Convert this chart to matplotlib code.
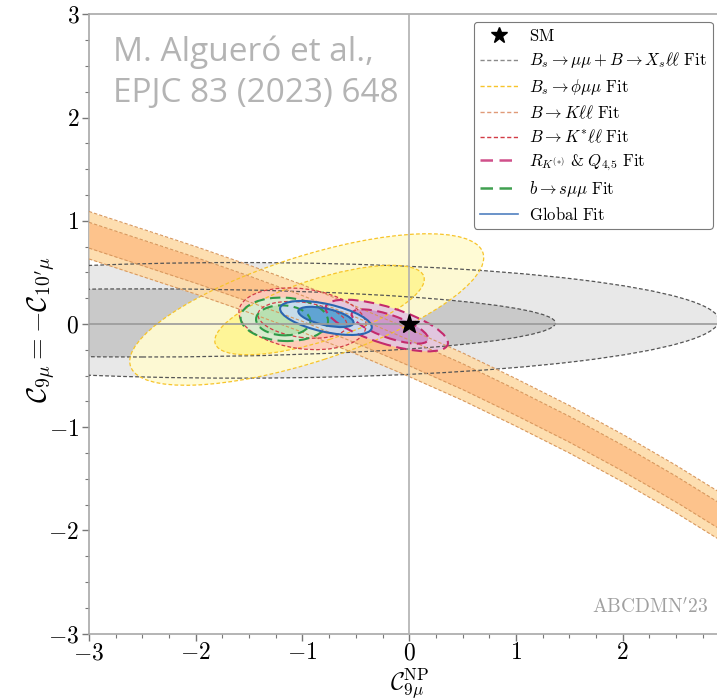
import matplotlib
matplotlib.use("Agg")
import matplotlib.pyplot as plt
from matplotlib.patches import Ellipse
from matplotlib.lines import Line2D
from matplotlib.ticker import MultipleLocator, FuncFormatter
import numpy as np

plt.rcParams['mathtext.fontset'] = 'cm'
plt.rcParams['font.family'] = ['cmr10', 'DejaVu Serif']
plt.rcParams['axes.unicode_minus'] = False

# ---------------- data ----------------
# B -> K ll band: sample points of the band centre and its half widths
band_x = [-3.0, -2.5, -2.0, -1.5, -1.0, -0.5, 0.0, 0.5, 1.0, 1.5, 2.0, 2.5, 3.0]
band_mid = [0.86, 0.69, 0.52, 0.34, 0.15, -0.06, -0.28, -0.51, -0.76, -1.02, -1.30, -1.60, -1.92]
band_half_1s = 0.125
band_half_2s = 0.23

# elliptic contours: (centre x, centre y, semi-axis a, semi-axis b, angle deg)
gray_2s = (-1.60, 0.035, 4.50, 0.56, 0.0)
gray_1s = (-2.50, 0.01, 3.87, 0.33, 0.0)
yellow_2s = (-0.96, 0.14, 1.74, 0.51, 18.5)
yellow_1s = (-0.84, 0.135, 1.03, 0.30, 18.5)
red_2s = (-1.00, 0.05, 0.60, 0.29, -8.0)
red_1s = (-1.00, 0.04, 0.42, 0.17, -8.0)
mag_2s = (-0.21, -0.015, 0.60, 0.177, -18.0)
mag_1s = (-0.18, -0.025, 0.38, 0.11, -20.0)
green_2s = (-1.17, 0.045, 0.41, 0.21, -3.0)
green_1s = (-1.18, 0.035, 0.255, 0.145, -3.0)
blue_2s = (-0.78, 0.058, 0.44, 0.135, -13.0)
blue_1s = (-0.78, 0.068, 0.265, 0.08, -13.0)

sm_point = (0.0, 0.0)

legend_labels = [
    r'$\mathrm{SM}$',
    r'$B_s\to\mu\mu+B\to X_s\ell\ell\ \mathrm{Fit}$',
    r'$B_s\to\phi\mu\mu\ \mathrm{Fit}$',
    r'$B\to K\ell\ell\ \mathrm{Fit}$',
    r'$B\to K^{*}\ell\ell\ \mathrm{Fit}$',
    r'$R_{K^{(*)}}\ &\ Q_{4,\!5}\ \mathrm{Fit}$',
    r'$b\to s\mu\mu\ \mathrm{Fit}$',
    r'$\mathrm{Global\ Fit}$',
]

xticks = [-3, -2, -1, 0, 1, 2]
yticks = [-3, -2, -1, 0, 1, 2, 3]

# ---------------- styles ----------------
c_gray_edge = '#555555'
c_gold_edge = '#f7c42a'
c_band_edge = '#d8985e'
c_red_edge = '#d23c46'
c_mag_edge = '#c42a6c'
c_green_edge = '#2e9a48'
c_blue_edge = '#2a66b0'
thin_dash = (0, (3.0, 1.8))
long_dash = (0, (5.0, 2.6))

fig = plt.figure(figsize=(7.17, 7.0), dpi=100)
ax = fig.add_axes([0.1241, 0.0949, 0.8932, 0.8846])
ax.set_xlim(-3, 3)
ax.set_ylim(-3, 3)


def add_ellipse(p, face, edge, ls, lw, zf, alpha=1.0):
    cx, cy, a, b, ang = p
    ax.add_patch(Ellipse((cx, cy), 2 * a, 2 * b, angle=ang, facecolor=face,
                         edgecolor='none', alpha=alpha, zorder=zf))
    ax.add_patch(Ellipse((cx, cy), 2 * a, 2 * b, angle=ang, facecolor='none',
                         edgecolor=edge, linestyle=ls, linewidth=lw, zorder=zf + 20))


# gray
add_ellipse(gray_2s, '#e8e8e8', c_gray_edge, thin_dash, 0.9, 1)
add_ellipse(gray_1s, '#c9c9c9', c_gray_edge, thin_dash, 0.9, 2)
# yellow
add_ellipse(yellow_2s, '#fffbd2', c_gold_edge, thin_dash, 0.9, 3, 0.93)
add_ellipse(yellow_1s, '#fff594', c_gold_edge, thin_dash, 0.9, 4, 0.93)
# band
bm = np.array(band_mid)
ax.fill_between(band_x, bm - band_half_2s, bm + band_half_2s, color='#fddcaa',
                linewidth=0, zorder=5, alpha=0.92)
ax.fill_between(band_x, bm - band_half_1s, bm + band_half_1s, color='#fdc189',
                linewidth=0, zorder=6, alpha=0.92)
for off in (-band_half_2s, -band_half_1s, band_half_1s, band_half_2s):
    ax.plot(band_x, bm + off, color=c_band_edge, linestyle=thin_dash, linewidth=0.8, zorder=26)
# red
add_ellipse(red_2s, '#fdcbbb', c_red_edge, thin_dash, 0.9, 7, 0.92)
add_ellipse(red_1s, '#fcbcaa', c_red_edge, thin_dash, 0.9, 8, 0.92)
# magenta
add_ellipse(mag_2s, '#e4c6e2', c_mag_edge, long_dash, 1.5, 9, 0.9)
add_ellipse(mag_1s, '#cc92c8', c_mag_edge, long_dash, 1.5, 10, 0.9)
# green
add_ellipse(green_2s, '#d6efd2', c_green_edge, long_dash, 1.5, 11, 0.9)
add_ellipse(green_1s, '#b6dfae', c_green_edge, long_dash, 1.5, 12, 0.9)
# blue
add_ellipse(blue_2s, '#c8dcf0', c_blue_edge, '-', 1.5, 13, 0.9)
add_ellipse(blue_1s, '#5aa1d2', c_blue_edge, '-', 1.5, 14, 0.95)

ax.axhline(0, color='#9a9a9a', linewidth=1.2, zorder=40)
ax.axvline(0, color='#b0b0b0', linewidth=1.2, zorder=40)
ax.plot([sm_point[0]], [sm_point[1]], marker='*', color='black', markersize=15,
        linestyle='none', zorder=50)

# axes styling
for s in ax.spines.values():
    s.set_color('#a8a8a8')
    s.set_linewidth(1.2)
ax.xaxis.set_minor_locator(MultipleLocator(0.25))
ax.yaxis.set_minor_locator(MultipleLocator(0.25))
ax.set_xticks(xticks)
ax.set_yticks(yticks)
fmt = FuncFormatter(lambda v, p: r'$%d$' % int(round(v)))
ax.xaxis.set_major_formatter(fmt)
ax.yaxis.set_major_formatter(fmt)
ax.tick_params(which='major', direction='out', length=5, width=1.0, color='#777777',
               labelsize=17, pad=2)
ax.tick_params(axis='x', which='major', pad=1)
ax.tick_params(which='minor', direction='out', length=3, width=0.8, color='#777777')
ax.tick_params(top=False, right=False)

ax.set_xlabel(r'$\mathcal{C}_{9\mu}^{\mathrm{NP}}$', fontsize=17.5)
ax.xaxis.set_label_coords(0.5, -0.0545, transform=ax.transAxes)
ax.xaxis.label.set_verticalalignment('top')
ax.set_ylabel(r'$\mathcal{C}_{9\mu}=-\mathcal{C}_{10^{\prime}\mu}$', fontsize=20)
ax.yaxis.set_label_coords(-0.050, 0.49, transform=ax.transAxes)

# legend
handles = [
    Line2D([], [], marker='*', color='black', markersize=12, linestyle='none'),
    Line2D([], [], color='#8a8a8a', linestyle=thin_dash, linewidth=1.0),
    Line2D([], [], color=c_gold_edge, linestyle=thin_dash, linewidth=1.0),
    Line2D([], [], color='#e09a78', linestyle=thin_dash, linewidth=1.0),
    Line2D([], [], color=c_red_edge, linestyle=thin_dash, linewidth=1.0),
    Line2D([], [], color='#d0508a', linestyle=long_dash, linewidth=1.8),
    Line2D([], [], color='#40a050', linestyle=long_dash, linewidth=1.8),
    Line2D([], [], color='#5080c0', linestyle='-', linewidth=1.2),
]
leg = fig.legend(handles, legend_labels, loc='upper left', bbox_to_anchor=(0.661, 0.9686),
                 fontsize=12, frameon=True, fancybox=True, framealpha=1,
                 edgecolor='#7a7a7a', handlelength=2.3, handletextpad=0.65,
                 labelspacing=0.40, borderpad=0.35, borderaxespad=0)
leg.get_frame().set_linewidth(0.8)
leg.set_zorder(100)

# annotations
fig.text(113 / 717, 1 - 61 / 700, 'M. Algueró et al.,', family='Open Sans',
         fontsize=24, color='#b4b4b4', va='baseline', ha='left')
fig.text(113 / 717, 1 - 102 / 700, 'EPJC 83 (2023) 648', family='Open Sans',
         fontsize=24, color='#b4b4b4', va='baseline', ha='left')
fig.text(708 / 717, 1 - 613 / 700, r"$\mathrm{ABCDMN'23}$", fontsize=14,
         color='#a0a0a0', ha='right', va='baseline')

fig.savefig('out.png', dpi=100)
